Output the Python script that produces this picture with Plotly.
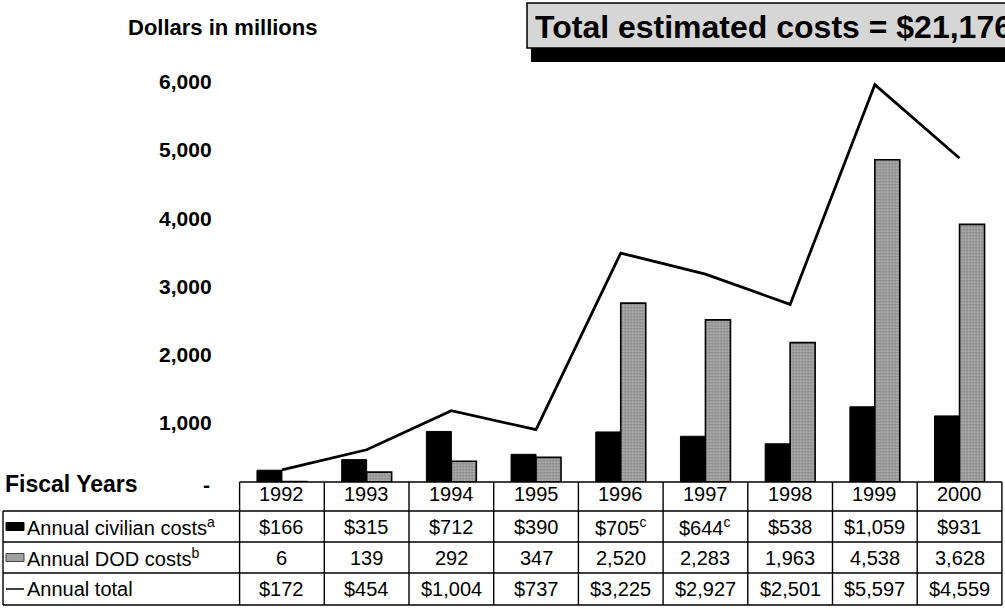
import plotly.graph_objects as go

# ---- data ----
years = ["1992", "1993", "1994", "1995", "1996", "1997", "1998", "1999", "2000"]
civilian = [166, 315, 712, 390, 705, 644, 538, 1059, 931]
civilian_notes = ["", "", "", "", "c", "c", "", "", ""]
dod = [6, 139, 292, 347, 2520, 2283, 1963, 4538, 3628]
total = [172, 454, 1004, 737, 3225, 2927, 2501, 5597, 4559]
y_tickvals = [1000, 2000, 3000, 4000, 5000, 6000]
y_ticktext = ["1,000", "2,000", "3,000", "4,000", "5,000", "6,000"]
row_labels = ["Annual civilian costs<sup>a</sup>", "Annual DOD costs<sup>b</sup>", "Annual total"]
title_text = "Total estimated costs = $21,176"

# ---- layout constants (pixels) ----
W, H = 1005, 609
X_LEFT, X_RIGHT = 239.6, 1001.9      # plot area x extent in px
Y0_PX, PX_PER_1000, YMAX = 482, 71.0, 6700
Y_TOP_PX = Y0_PX - YMAX * PX_PER_1000 / 1000
# the printed value labels sit on their own (slightly different) scale
LBL0_PX, LBL_PX_PER_1000 = 491, 68.2
FONT = "Liberation Sans"

def px(x):
    return x / W

def py(y):
    return 1 - y / H

n = len(years)
def cat_px(i):
    return X_LEFT + (i + 0.5) / n * (X_RIGHT - X_LEFT)

fig = go.Figure()
fig.add_bar(x=years, y=civilian, name="Annual civilian costs",
            marker=dict(color="black", line=dict(color="black", width=1)))
fig.add_bar(x=years, y=dod, name="Annual DOD costs",
            marker=dict(color="#9c9c9c", line=dict(color="black", width=1.6),
                        pattern=dict(shape=".", size=3, solidity=0.5,
                                     fgcolor="#4a4a4a", bgcolor="#b8b8b8")))
fig.add_scatter(x=years, y=total, mode="lines", name="Annual total",
                line=dict(color="black", width=2.8))
fig.add_scatter(x=[], y=[], yaxis="y2", showlegend=False, hoverinfo="skip")

shapes = []
annotations = []

# title box with shadow
shapes.append(dict(type="rect", xref="paper", yref="paper", x0=px(531), x1=px(1012),
                   y0=py(62), y1=py(10), fillcolor="black", line=dict(width=0), layer="above"))
shapes.append(dict(type="rect", xref="paper", yref="paper", x0=px(527), x1=px(1012),
                   y0=py(48), y1=py(3), fillcolor="#d6d6d6", line=dict(color="black", width=1.5),
                   layer="above"))
annotations.append(dict(text="<b>" + title_text + "</b>", xref="paper", yref="paper",
                        x=px(533), y=py(27), xanchor="left", yanchor="middle", showarrow=False,
                        font=dict(family=FONT, size=32, color="black")))

# axis title
annotations.append(dict(text="<b>Dollars in millions</b>", xref="paper", yref="paper",
                        x=px(126), y=py(27), xanchor="left", yanchor="middle", showarrow=False,
                        font=dict(family=FONT, size=22, color="black")))

# table geometry
row_lines = [482, 511, 542, 573, 605]
LBL_LEFT = 3
line_style = dict(color="black", width=1.4)

annotations.append(dict(text="<b>Fiscal Years</b>", xref="paper", yref="paper",
                        x=px(3), y=py(row_lines[0] + 2), xanchor="left", yanchor="middle",
                        showarrow=False, font=dict(family=FONT, size=23, color="black")))
annotations.append(dict(text="<b>-</b>", xref="paper", yref="paper",
                        x=px(212), y=py(row_lines[0] + 2), xanchor="right", yanchor="middle",
                        showarrow=False, font=dict(family=FONT, size=21, color="black")))

shapes.append(dict(type="line", xref="paper", yref="paper", x0=px(X_LEFT), x1=px(X_RIGHT),
                   y0=py(row_lines[0]), y1=py(row_lines[0]), line=line_style, layer="above"))
for yl in row_lines[1:]:
    shapes.append(dict(type="line", xref="paper", yref="paper", x0=px(LBL_LEFT), x1=px(X_RIGHT),
                       y0=py(yl), y1=py(yl), line=line_style, layer="above"))
for i in range(n + 1):
    xv = X_LEFT + i / n * (X_RIGHT - X_LEFT)
    shapes.append(dict(type="line", xref="paper", yref="paper", x0=px(xv), x1=px(xv),
                       y0=py(row_lines[0]), y1=py(row_lines[-1]), line=line_style, layer="above"))
shapes.append(dict(type="line", xref="paper", yref="paper", x0=px(LBL_LEFT), x1=px(LBL_LEFT),
                   y0=py(row_lines[1]), y1=py(row_lines[-1]), line=line_style, layer="above"))

# legend swatches in label column
mid = [(row_lines[k] + row_lines[k + 1]) / 2 for k in range(len(row_lines) - 1)]
shapes.append(dict(type="rect", xref="paper", yref="paper", x0=px(6), x1=px(24),
                   y0=py(mid[1] + 4), y1=py(mid[1] - 4), fillcolor="black",
                   line=dict(color="black", width=1), layer="above"))
shapes.append(dict(type="rect", xref="paper", yref="paper", x0=px(6), x1=px(24),
                   y0=py(mid[2] + 4), y1=py(mid[2] - 4), fillcolor="#a0a0a0",
                   line=dict(color="#444444", width=1), layer="above"))
shapes.append(dict(type="line", xref="paper", yref="paper", x0=px(6), x1=px(24),
                   y0=py(mid[3]), y1=py(mid[3]), line=dict(color="black", width=1.5), layer="above"))

for k, lab in enumerate(row_labels):
    annotations.append(dict(text=lab, xref="paper", yref="paper", x=px(25), y=py(mid[k + 1]),
                            xanchor="left", yanchor="middle", showarrow=False,
                            font=dict(family=FONT, size=20, color="black")))

# table cells
cell_font = dict(family=FONT, size=20, color="black")
for i, yr in enumerate(years):
    rows = [
        yr,
        "$" + f"{civilian[i]:,}" + (f"<sup>{civilian_notes[i]}</sup>" if civilian_notes[i] else ""),
        f"{dod[i]:,}",
        "$" + f"{total[i]:,}",
    ]
    for k, t in enumerate(rows):
        yc = mid[k] - (3 if k == 0 else 0)
        annotations.append(dict(text=t, xref="paper", yref="paper", x=px(cat_px(i)), y=py(yc),
                                xanchor="center", yanchor="middle", showarrow=False,
                                font=cell_font))

lbl_lo = (LBL0_PX - Y0_PX) / LBL_PX_PER_1000 * 1000
lbl_hi = (LBL0_PX - Y_TOP_PX) / LBL_PX_PER_1000 * 1000

fig.update_layout(
    width=W, height=H,
    margin=dict(l=0, r=0, t=0, b=0),
    paper_bgcolor="white", plot_bgcolor="white",
    showlegend=False,
    barmode="group", bargap=0.41, bargroupgap=0,
    shapes=shapes, annotations=annotations,
    xaxis=dict(domain=[px(X_LEFT), px(X_RIGHT)], range=[-0.5, n - 0.5], type="category",
               showticklabels=False, showgrid=False, zeroline=False, showline=False, ticks=""),
    yaxis=dict(domain=[py(Y0_PX), py(Y_TOP_PX)], range=[0, YMAX], showticklabels=False,
               showgrid=False, zeroline=False, showline=False, ticks=""),
    yaxis2=dict(overlaying="y", side="left", range=[lbl_lo, lbl_hi], tickvals=y_tickvals,
                ticktext=y_ticktext, showgrid=False, zeroline=False, showline=False, ticks="",
                ticklabelstandoff=27,
                tickfont=dict(family=FONT, size=21, color="black", weight="bold")),
)

fig.write_html("out.html", post_script="document.body.style.margin='0px';",
               config={"displayModeBar": False})
